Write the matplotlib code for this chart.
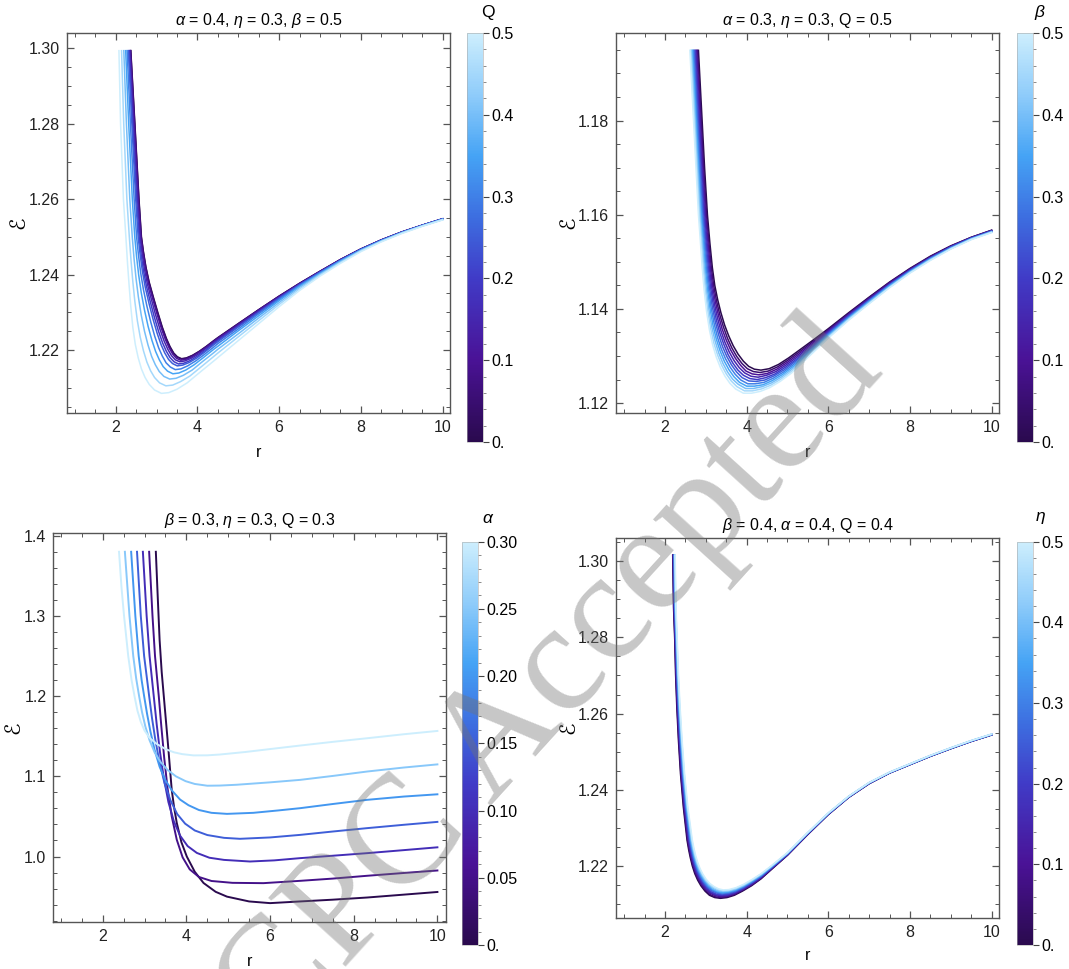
import matplotlib
matplotlib.use("Agg")
import matplotlib.pyplot as plt
from matplotlib.colors import LinearSegmentedColormap, Normalize
from matplotlib.cm import ScalarMappable
from matplotlib.ticker import MultipleLocator, FormatStrFormatter

plt.rcParams["font.family"] = ["Liberation Sans", "DejaVu Sans"]
plt.rcParams["mathtext.fontset"] = "custom"
plt.rcParams["mathtext.rm"] = "Liberation Sans"
plt.rcParams["mathtext.it"] = "Liberation Sans:italic"

# ---------------- panel 1 : curves for Q = 0 ... 0.5 ----------------
q_vals = [0.0, 0.05, 0.10, 0.15, 0.20, 0.25, 0.30, 0.35, 0.40, 0.45, 0.50]
p1_head_e = [1.2994, 1.28, 1.26]
p1_head_r = [
    [2.37, 2.47, 2.57], [2.367, 2.466, 2.566], [2.358, 2.456, 2.555],
    [2.344, 2.438, 2.536], [2.326, 2.417, 2.513], [2.309, 2.396, 2.490],
    [2.280, 2.361, 2.452], [2.245, 2.319, 2.407], [2.199, 2.263, 2.346],
    [2.144, 2.197, 2.274], [2.08, 2.12, 2.19],
]
p1_bend_r = [
    [2.63, 2.68, 2.74, 2.82, 2.92, 3.03, 3.14, 3.24, 3.33, 3.42, 3.51, 3.61, 3.73, 3.88, 4.05, 4.22, 4.40],
    [2.626, 2.676, 2.736, 2.815, 2.915, 3.024, 3.134, 3.234, 3.324, 3.414, 3.504, 3.605, 3.726, 3.876, 4.047, 4.218, 4.40],
    [2.615, 2.664, 2.724, 2.802, 2.900, 3.008, 3.116, 3.216, 3.306, 3.396, 3.488, 3.590, 3.713, 3.865, 4.038, 4.213, 4.40],
    [2.596, 2.645, 2.703, 2.779, 2.875, 2.980, 3.087, 3.185, 3.275, 3.366, 3.460, 3.566, 3.691, 3.846, 4.023, 4.205, 4.40],
    [2.573, 2.621, 2.678, 2.752, 2.845, 2.947, 3.051, 3.148, 3.238, 3.330, 3.426, 3.536, 3.665, 3.823, 4.005, 4.194, 4.40],
    [2.550, 2.598, 2.654, 2.725, 2.815, 2.914, 3.016, 3.112, 3.202, 3.294, 3.392, 3.507, 3.640, 3.800, 3.987, 4.184, 4.40],
    [2.512, 2.559, 2.613, 2.680, 2.765, 2.859, 2.957, 3.051, 3.141, 3.234, 3.336, 3.458, 3.597, 3.762, 3.957, 4.167, 4.40],
    [2.467, 2.512, 2.564, 2.626, 2.705, 2.793, 2.886, 2.978, 3.068, 3.162, 3.269, 3.399, 3.545, 3.717, 3.921, 4.147, 4.40],
    [2.406, 2.450, 2.498, 2.554, 2.625, 2.705, 2.792, 2.880, 2.970, 3.066, 3.180, 3.321, 3.476, 3.656, 3.873, 4.120, 4.40],
    [2.334, 2.376, 2.420, 2.469, 2.530, 2.601, 2.680, 2.764, 2.854, 2.952, 3.073, 3.228, 3.395, 3.584, 3.816, 4.087, 4.40],
    [2.25, 2.29, 2.33, 2.37, 2.42, 2.48, 2.55, 2.63, 2.72, 2.82, 2.95, 3.12, 3.30, 3.50, 3.75, 4.05, 4.40],
]
p1_bend_e = [
    [1.2500, 1.2460, 1.2420, 1.2380, 1.2341, 1.2300, 1.2261, 1.2231, 1.2209, 1.2192, 1.2182, 1.2177, 1.2179, 1.2186, 1.2197, 1.2210, 1.2225],
    [1.2500, 1.2460, 1.2420, 1.2379, 1.2340, 1.2299, 1.2260, 1.2230, 1.2208, 1.2191, 1.2181, 1.2176, 1.2178, 1.2185, 1.2196, 1.2209, 1.2224],
    [1.2500, 1.2459, 1.2418, 1.2377, 1.2338, 1.2297, 1.2258, 1.2228, 1.2206, 1.2189, 1.2178, 1.2173, 1.2175, 1.2182, 1.2194, 1.2207, 1.2223],
    [1.2500, 1.2457, 1.2415, 1.2374, 1.2334, 1.2292, 1.2254, 1.2224, 1.2202, 1.2185, 1.2174, 1.2169, 1.2171, 1.2178, 1.2189, 1.2204, 1.2220],
    [1.2500, 1.2455, 1.2412, 1.2370, 1.2329, 1.2287, 1.2249, 1.2219, 1.2197, 1.2180, 1.2169, 1.2163, 1.2165, 1.2172, 1.2184, 1.2199, 1.2217],
    [1.2500, 1.2454, 1.2409, 1.2366, 1.2324, 1.2282, 1.2244, 1.2214, 1.2192, 1.2175, 1.2164, 1.2158, 1.2160, 1.2167, 1.2179, 1.2195, 1.2214],
    [1.2500, 1.2451, 1.2404, 1.2360, 1.2316, 1.2274, 1.2236, 1.2206, 1.2184, 1.2166, 1.2155, 1.2148, 1.2150, 1.2158, 1.2171, 1.2188, 1.2208],
    [1.2500, 1.2447, 1.2398, 1.2352, 1.2306, 1.2263, 1.2226, 1.2196, 1.2174, 1.2156, 1.2144, 1.2137, 1.2139, 1.2147, 1.2161, 1.2180, 1.2202],
    [1.2500, 1.2442, 1.2390, 1.2342, 1.2293, 1.2250, 1.2213, 1.2183, 1.2161, 1.2143, 1.2130, 1.2123, 1.2125, 1.2133, 1.2147, 1.2169, 1.2193],
    [1.2500, 1.2437, 1.2381, 1.2329, 1.2278, 1.2234, 1.2198, 1.2168, 1.2145, 1.2127, 1.2113, 1.2105, 1.2107, 1.2116, 1.2131, 1.2155, 1.2183],
    [1.2500, 1.2430, 1.2370, 1.2315, 1.2260, 1.2215, 1.2180, 1.2150, 1.2127, 1.2109, 1.2094, 1.2085, 1.2087, 1.2096, 1.2113, 1.2140, 1.2171],
]
p1_tail_r = [4.5, 5.0, 5.5, 6.0, 6.5, 7.0, 7.5, 8.0, 8.5, 9.0, 9.5, 10.0]
p1_tail_e = [
    [1.2233, 1.2270, 1.2307, 1.2343, 1.2377, 1.2409, 1.2440, 1.2468, 1.2492, 1.2513, 1.2531, 1.2548],
    [1.2232, 1.2270, 1.2307, 1.2343, 1.2377, 1.2409, 1.2440, 1.2468, 1.2492, 1.2513, 1.2531, 1.2548],
    [1.2231, 1.2268, 1.2306, 1.2342, 1.2376, 1.2408, 1.2440, 1.2468, 1.2492, 1.2513, 1.2531, 1.2548],
    [1.2228, 1.2266, 1.2304, 1.2340, 1.2375, 1.2408, 1.2439, 1.2467, 1.2492, 1.2513, 1.2531, 1.2548],
    [1.2225, 1.2263, 1.2301, 1.2339, 1.2374, 1.2407, 1.2438, 1.2467, 1.2491, 1.2512, 1.2531, 1.2548],
    [1.2222, 1.2261, 1.2299, 1.2337, 1.2373, 1.2406, 1.2438, 1.2467, 1.2491, 1.2512, 1.2530, 1.2547],
    [1.2217, 1.2256, 1.2296, 1.2334, 1.2371, 1.2405, 1.2437, 1.2466, 1.2490, 1.2512, 1.2530, 1.2547],
    [1.2210, 1.2251, 1.2291, 1.2331, 1.2369, 1.2403, 1.2436, 1.2465, 1.2490, 1.2511, 1.2530, 1.2547],
    [1.2202, 1.2243, 1.2285, 1.2326, 1.2366, 1.2401, 1.2434, 1.2464, 1.2489, 1.2511, 1.2529, 1.2546],
    [1.2192, 1.2235, 1.2278, 1.2321, 1.2362, 1.2399, 1.2432, 1.2463, 1.2488, 1.2510, 1.2529, 1.2546],
    [1.2180, 1.2225, 1.2270, 1.2315, 1.2358, 1.2396, 1.2430, 1.2461, 1.2487, 1.2509, 1.2528, 1.2545],
]

# ---------------- panel 2 : curves for beta = 0 ... 0.5 ----------------
beta_vals = [0.0, 0.05, 0.10, 0.15, 0.20, 0.25, 0.30, 0.35, 0.40, 0.45, 0.50]
p2_head_e = [1.1949, 1.18, 1.17, 1.16]
p2_head_r = [
    [2.82, 2.91, 2.97, 3.04], [2.799, 2.889, 2.949, 3.018],
    [2.778, 2.868, 2.928, 2.996], [2.757, 2.847, 2.907, 2.974],
    [2.736, 2.826, 2.886, 2.952], [2.715, 2.805, 2.865, 2.930],
    [2.694, 2.784, 2.844, 2.908], [2.673, 2.763, 2.823, 2.886],
    [2.652, 2.742, 2.802, 2.864], [2.631, 2.721, 2.781, 2.842],
    [2.61, 2.70, 2.76, 2.82],
]
p2_bend_r = [
    [3.10, 3.16, 3.22, 3.29, 3.37, 3.46, 3.56, 3.67, 3.79, 3.92, 4.05, 4.19, 4.35, 4.55, 4.78, 5.03, 5.30],
    [3.077, 3.135, 3.194, 3.263, 3.342, 3.431, 3.530, 3.639, 3.758, 3.887, 4.018, 4.163, 4.327, 4.529, 4.759, 5.009, 5.280],
    [3.054, 3.110, 3.168, 3.236, 3.314, 3.402, 3.500, 3.608, 3.726, 3.854, 3.986, 4.136, 4.304, 4.508, 4.738, 4.988, 5.260],
    [3.031, 3.085, 3.142, 3.209, 3.286, 3.373, 3.470, 3.577, 3.694, 3.821, 3.954, 4.109, 4.281, 4.487, 4.717, 4.967, 5.240],
    [3.008, 3.060, 3.116, 3.182, 3.258, 3.344, 3.440, 3.546, 3.662, 3.788, 3.922, 4.082, 4.258, 4.466, 4.696, 4.946, 5.220],
    [2.985, 3.035, 3.090, 3.155, 3.230, 3.315, 3.410, 3.515, 3.630, 3.755, 3.890, 4.055, 4.235, 4.445, 4.675, 4.925, 5.200],
    [2.962, 3.010, 3.064, 3.128, 3.202, 3.286, 3.380, 3.484, 3.598, 3.722, 3.858, 4.028, 4.212, 4.424, 4.654, 4.904, 5.180],
    [2.939, 2.985, 3.038, 3.101, 3.174, 3.257, 3.350, 3.453, 3.566, 3.689, 3.826, 4.001, 4.189, 4.403, 4.633, 4.883, 5.160],
    [2.916, 2.960, 3.012, 3.074, 3.146, 3.228, 3.320, 3.422, 3.534, 3.656, 3.794, 3.974, 4.166, 4.382, 4.612, 4.862, 5.140],
    [2.893, 2.935, 2.986, 3.047, 3.118, 3.199, 3.290, 3.391, 3.502, 3.623, 3.762, 3.947, 4.143, 4.361, 4.591, 4.841, 5.120],
    [2.87, 2.91, 2.96, 3.02, 3.09, 3.17, 3.26, 3.36, 3.47, 3.59, 3.73, 3.92, 4.12, 4.34, 4.57, 4.82, 5.10],
]
p2_bend_e = [
    [1.1540, 1.1488, 1.1450, 1.1420, 1.1392, 1.1366, 1.1343, 1.1322, 1.1304, 1.1289, 1.1278, 1.1272, 1.1270, 1.1273, 1.1282, 1.1296, 1.1313],
    [1.1540, 1.1488, 1.1449, 1.1417, 1.1388, 1.1362, 1.1338, 1.1317, 1.1299, 1.1284, 1.1273, 1.1267, 1.1265, 1.1268, 1.1277, 1.1291, 1.1308],
    [1.1540, 1.1488, 1.1448, 1.1415, 1.1385, 1.1357, 1.1334, 1.1313, 1.1295, 1.1280, 1.1268, 1.1262, 1.1260, 1.1263, 1.1272, 1.1286, 1.1303],
    [1.1540, 1.1489, 1.1447, 1.1412, 1.1381, 1.1353, 1.1329, 1.1308, 1.1290, 1.1275, 1.1264, 1.1257, 1.1255, 1.1259, 1.1267, 1.1281, 1.1298],
    [1.1540, 1.1489, 1.1446, 1.1410, 1.1377, 1.1349, 1.1325, 1.1303, 1.1285, 1.1270, 1.1259, 1.1252, 1.1250, 1.1254, 1.1262, 1.1276, 1.1293],
    [1.1540, 1.1489, 1.1445, 1.1407, 1.1374, 1.1345, 1.1320, 1.1299, 1.1281, 1.1266, 1.1254, 1.1247, 1.1246, 1.1249, 1.1258, 1.1271, 1.1289],
    [1.1540, 1.1489, 1.1444, 1.1404, 1.1370, 1.1340, 1.1315, 1.1294, 1.1276, 1.1261, 1.1249, 1.1241, 1.1241, 1.1244, 1.1253, 1.1266, 1.1284],
    [1.1540, 1.1489, 1.1443, 1.1402, 1.1366, 1.1336, 1.1311, 1.1289, 1.1271, 1.1256, 1.1244, 1.1236, 1.1236, 1.1239, 1.1248, 1.1261, 1.1279],
    [1.1540, 1.1490, 1.1442, 1.1399, 1.1362, 1.1332, 1.1306, 1.1284, 1.1266, 1.1251, 1.1240, 1.1231, 1.1231, 1.1235, 1.1243, 1.1256, 1.1274],
    [1.1540, 1.1490, 1.1441, 1.1397, 1.1359, 1.1327, 1.1302, 1.1280, 1.1262, 1.1247, 1.1235, 1.1226, 1.1226, 1.1230, 1.1238, 1.1251, 1.1269],
    [1.1540, 1.1490, 1.1440, 1.1394, 1.1355, 1.1323, 1.1297, 1.1275, 1.1257, 1.1242, 1.1230, 1.1221, 1.1221, 1.1225, 1.1233, 1.1246, 1.1264],
]
p2_tail_r = [5.6, 6.0, 6.5, 7.0, 7.5, 8.0, 8.5, 9.0, 9.5, 10.0]
p2_tail_e = [
    [1.1332, 1.1358, 1.1392, 1.1425, 1.1457, 1.1486, 1.1512, 1.1534, 1.1552, 1.1567],
    [1.1329, 1.1356, 1.1390, 1.1424, 1.1456, 1.1485, 1.1511, 1.1533, 1.1552, 1.1567],
    [1.1326, 1.1354, 1.1389, 1.1422, 1.1455, 1.1484, 1.1510, 1.1533, 1.1551, 1.1566],
    [1.1323, 1.1352, 1.1387, 1.1421, 1.1453, 1.1483, 1.1509, 1.1532, 1.1551, 1.1566],
    [1.1320, 1.1350, 1.1386, 1.1419, 1.1452, 1.1482, 1.1508, 1.1531, 1.1550, 1.1565],
    [1.1318, 1.1348, 1.1384, 1.1418, 1.1451, 1.1481, 1.1508, 1.1531, 1.1550, 1.1565],
    [1.1315, 1.1346, 1.1382, 1.1417, 1.1450, 1.1480, 1.1507, 1.1530, 1.1549, 1.1564],
    [1.1313, 1.1344, 1.1381, 1.1415, 1.1449, 1.1479, 1.1506, 1.1529, 1.1549, 1.1564],
    [1.1310, 1.1342, 1.1379, 1.1414, 1.1447, 1.1478, 1.1505, 1.1528, 1.1548, 1.1563],
    [1.1308, 1.1340, 1.1378, 1.1412, 1.1446, 1.1477, 1.1504, 1.1528, 1.1548, 1.1563],
    [1.1305, 1.1338, 1.1376, 1.1411, 1.1445, 1.1476, 1.1503, 1.1527, 1.1547, 1.1562],
]

# ---------------- panel 3 : curves for alpha = 0 ... 0.30 ----------------
alpha_vals = [0.0, 0.05, 0.10, 0.15, 0.20, 0.25, 0.30]
p3_r = [
    [3.27, 3.31, 3.36, 3.41, 3.46, 3.51, 3.56, 3.65, 3.71, 3.77, 3.88, 4.01, 4.2, 4.41,
     4.7, 4.97, 5.5, 6.0, 6.72, 7.5, 8.32, 9.2, 10.0],
    [3.11, 3.19, 3.25, 3.30, 3.34, 3.40, 3.47, 3.55, 3.65, 3.77, 3.91, 4.08, 4.3, 4.6,
     5.1, 5.84, 6.72, 7.5, 8.32, 9.2, 10.0],
    [2.96, 3.05, 3.12, 3.17, 3.22, 3.29, 3.37, 3.46, 3.57, 3.70, 3.85, 4.03, 4.25, 4.55,
     4.9, 5.52, 6.1, 6.72, 7.5, 8.32, 9.2, 10.0],
    [2.82, 2.91, 2.99, 3.05, 3.11, 3.18, 3.26, 3.36, 3.48, 3.62, 3.78, 3.97, 4.2, 4.5,
     4.9, 5.28, 6.0, 6.72, 7.5, 8.32, 9.2, 10.0],
    [2.68, 2.78, 2.86, 2.93, 2.99, 3.06, 3.14, 3.24, 3.36, 3.50, 3.66, 3.85, 4.05, 4.3,
     4.6, 4.97, 5.6, 6.2, 6.72, 7.5, 8.32, 9.2, 10.0],
    [2.53, 2.64, 2.73, 2.80, 2.87, 2.94, 3.02, 3.12, 3.24, 3.38, 3.55, 3.75, 3.98, 4.2,
     4.5, 4.8, 5.2, 6.0, 6.72, 7.5, 8.32, 9.2, 10.0],
    [2.39, 2.45, 2.51, 2.61, 2.69, 2.76, 2.83, 2.91, 3.0, 3.12, 3.29, 3.5, 3.7, 3.9,
     4.17, 4.5, 4.8, 5.4, 6.0, 6.72, 7.5, 8.32, 9.2, 10.0],
]
p3_e = [
    [1.380, 1.33, 1.27, 1.23, 1.20, 1.17, 1.14, 1.083, 1.060, 1.042, 1.018, 1.000, 0.981,
     0.967, 0.956, 0.950, 0.944, 0.9419, 0.9440, 0.9462, 0.9489, 0.9525, 0.9558],
    [1.380, 1.30, 1.25, 1.222, 1.20, 1.163, 1.123, 1.085, 1.050, 1.021, 0.999, 0.984,
     0.9745, 0.9695, 0.9672, 0.9668, 0.9697, 0.9725, 0.9760, 0.9795, 0.9826],
    [1.380, 1.30, 1.25, 1.225, 1.20, 1.165, 1.130, 1.098, 1.068, 1.044, 1.026, 1.013,
     1.0045, 0.9985, 0.9958, 0.9938, 0.9952, 0.9980, 1.0010, 1.0042, 1.0080, 1.0115],
    [1.380, 1.30, 1.25, 1.225, 1.20, 1.172, 1.145, 1.117, 1.091, 1.070, 1.053, 1.041,
     1.0325, 1.0268, 1.0233, 1.0221, 1.0238, 1.0270, 1.0312, 1.0354, 1.0396, 1.0432],
    [1.380, 1.30, 1.25, 1.22, 1.20, 1.178, 1.156, 1.133, 1.112, 1.095, 1.082, 1.071,
     1.064, 1.058, 1.0545, 1.0532, 1.0545, 1.0575, 1.0603, 1.0655, 1.0707, 1.0748, 1.0776],
    [1.380, 1.30, 1.25, 1.222, 1.20, 1.18, 1.162, 1.145, 1.130, 1.118, 1.108, 1.100,
     1.094, 1.0905, 1.0883, 1.0885, 1.0895, 1.0925, 1.0956, 1.1005, 1.1060, 1.1110, 1.1149],
    [1.380, 1.335, 1.30, 1.25, 1.22, 1.20, 1.182, 1.168, 1.157, 1.148, 1.1405, 1.134,
     1.130, 1.1277, 1.1261, 1.1262, 1.1272, 1.1303, 1.1340, 1.1384, 1.1430, 1.1475,
     1.1525, 1.1566],
]

# ---------------- panel 4 : curves for eta = 0 ... 0.5 ----------------
eta_vals = [0.0, 0.05, 0.10, 0.15, 0.20, 0.25, 0.30, 0.35, 0.40, 0.45, 0.50]
p4_head_e = [1.3016, 1.288, 1.2793, 1.2705, 1.2618, 1.253, 1.2443, 1.2355, 1.2268]
p4_head_r = [
    [2.19, 2.21, 2.24, 2.26, 2.29, 2.33, 2.38, 2.45, 2.54],
    [2.196, 2.216, 2.246, 2.267, 2.298, 2.339, 2.39, 2.461, 2.553],
    [2.202, 2.222, 2.252, 2.274, 2.306, 2.348, 2.40, 2.472, 2.566],
    [2.208, 2.228, 2.258, 2.281, 2.314, 2.357, 2.41, 2.483, 2.579],
    [2.214, 2.234, 2.264, 2.288, 2.322, 2.366, 2.42, 2.494, 2.592],
    [2.220, 2.240, 2.270, 2.295, 2.330, 2.375, 2.43, 2.505, 2.605],
    [2.226, 2.246, 2.276, 2.302, 2.338, 2.384, 2.44, 2.516, 2.618],
    [2.232, 2.252, 2.282, 2.309, 2.346, 2.393, 2.45, 2.527, 2.631],
    [2.238, 2.258, 2.288, 2.316, 2.354, 2.402, 2.46, 2.538, 2.644],
    [2.244, 2.264, 2.294, 2.323, 2.362, 2.411, 2.47, 2.549, 2.657],
    [2.25, 2.27, 2.30, 2.33, 2.37, 2.42, 2.48, 2.56, 2.67],
]
p4_bend_r = [
    [2.58, 2.62, 2.67, 2.73, 2.80, 2.88, 2.98, 3.09, 3.22, 3.36, 3.52, 3.70, 3.90, 4.12, 4.35],
    [2.593, 2.633, 2.683, 2.743, 2.813, 2.893, 2.992, 3.101, 3.229, 3.367, 3.525, 3.704, 3.903, 4.122, 4.351],
    [2.606, 2.646, 2.696, 2.756, 2.826, 2.906, 3.004, 3.112, 3.238, 3.374, 3.530, 3.708, 3.906, 4.124, 4.352],
    [2.619, 2.659, 2.709, 2.769, 2.839, 2.919, 3.016, 3.123, 3.247, 3.381, 3.535, 3.712, 3.909, 4.126, 4.353],
    [2.632, 2.672, 2.722, 2.782, 2.852, 2.932, 3.028, 3.134, 3.256, 3.388, 3.540, 3.716, 3.912, 4.128, 4.354],
    [2.645, 2.685, 2.735, 2.795, 2.865, 2.945, 3.040, 3.145, 3.265, 3.395, 3.545, 3.720, 3.915, 4.130, 4.355],
    [2.658, 2.698, 2.748, 2.808, 2.878, 2.958, 3.052, 3.156, 3.274, 3.402, 3.550, 3.724, 3.918, 4.132, 4.356],
    [2.671, 2.711, 2.761, 2.821, 2.891, 2.971, 3.064, 3.167, 3.283, 3.409, 3.555, 3.728, 3.921, 4.134, 4.357],
    [2.684, 2.724, 2.774, 2.834, 2.904, 2.984, 3.076, 3.178, 3.292, 3.416, 3.560, 3.732, 3.924, 4.136, 4.358],
    [2.697, 2.737, 2.787, 2.847, 2.917, 2.997, 3.088, 3.189, 3.301, 3.423, 3.565, 3.736, 3.927, 4.138, 4.359],
    [2.71, 2.75, 2.80, 2.86, 2.93, 3.01, 3.10, 3.20, 3.31, 3.43, 3.57, 3.74, 3.93, 4.14, 4.36],
]
p4_bend_e = [
    [1.2243, 1.2222, 1.2200, 1.2180, 1.2163, 1.2148, 1.2134, 1.2123, 1.2117, 1.2115, 1.2117, 1.2123, 1.2134, 1.2148, 1.2166],
    [1.2243, 1.2223, 1.2201, 1.2181, 1.2165, 1.2150, 1.2136, 1.2125, 1.2119, 1.2117, 1.2119, 1.2125, 1.2136, 1.2150, 1.2167],
    [1.2244, 1.2223, 1.2202, 1.2183, 1.2166, 1.2151, 1.2138, 1.2128, 1.2122, 1.2119, 1.2121, 1.2127, 1.2138, 1.2151, 1.2169],
    [1.2244, 1.2224, 1.2203, 1.2184, 1.2168, 1.2153, 1.2140, 1.2130, 1.2124, 1.2122, 1.2123, 1.2129, 1.2139, 1.2153, 1.2170],
    [1.2244, 1.2224, 1.2204, 1.2185, 1.2169, 1.2155, 1.2142, 1.2132, 1.2126, 1.2124, 1.2125, 1.2131, 1.2141, 1.2155, 1.2172],
    [1.2245, 1.2225, 1.2205, 1.2187, 1.2171, 1.2157, 1.2144, 1.2135, 1.2129, 1.2126, 1.2128, 1.2133, 1.2143, 1.2157, 1.2173],
    [1.2245, 1.2226, 1.2206, 1.2188, 1.2172, 1.2158, 1.2146, 1.2137, 1.2131, 1.2128, 1.2130, 1.2135, 1.2145, 1.2158, 1.2174],
    [1.2245, 1.2226, 1.2207, 1.2189, 1.2174, 1.2160, 1.2148, 1.2139, 1.2133, 1.2130, 1.2132, 1.2137, 1.2147, 1.2160, 1.2176],
    [1.2245, 1.2227, 1.2208, 1.2190, 1.2175, 1.2162, 1.2150, 1.2141, 1.2135, 1.2133, 1.2134, 1.2139, 1.2148, 1.2162, 1.2177],
    [1.2246, 1.2227, 1.2209, 1.2192, 1.2177, 1.2163, 1.2152, 1.2144, 1.2138, 1.2135, 1.2136, 1.2141, 1.2150, 1.2163, 1.2179],
    [1.2246, 1.2228, 1.2210, 1.2193, 1.2178, 1.2165, 1.2154, 1.2146, 1.2140, 1.2137, 1.2138, 1.2143, 1.2152, 1.2165, 1.2180],
]
p4_tail_r = [4.6, 5.0, 5.5, 6.0, 6.5, 7.0, 7.5, 8.0, 8.5, 9.0, 9.5, 10.0]
p4_tail_e = [
    [1.2190, 1.2228, 1.2283, 1.2335, 1.2380, 1.2416, 1.2444, 1.2466, 1.2488, 1.2508, 1.2527, 1.2544],
    [1.2191, 1.2229, 1.2283, 1.2335, 1.2380, 1.2416, 1.2444, 1.2466, 1.2488, 1.2508, 1.2527, 1.2544],
    [1.2192, 1.2229, 1.2284, 1.2336, 1.2381, 1.2417, 1.2444, 1.2466, 1.2488, 1.2508, 1.2527, 1.2544],
    [1.2193, 1.2230, 1.2285, 1.2336, 1.2381, 1.2417, 1.2445, 1.2467, 1.2489, 1.2509, 1.2528, 1.2545],
    [1.2194, 1.2231, 1.2285, 1.2337, 1.2381, 1.2417, 1.2445, 1.2467, 1.2489, 1.2509, 1.2528, 1.2545],
    [1.2195, 1.2232, 1.2286, 1.2337, 1.2382, 1.2418, 1.2445, 1.2467, 1.2489, 1.2509, 1.2528, 1.2545],
    [1.2196, 1.2232, 1.2286, 1.2337, 1.2382, 1.2418, 1.2445, 1.2467, 1.2489, 1.2509, 1.2528, 1.2545],
    [1.2197, 1.2233, 1.2287, 1.2338, 1.2382, 1.2418, 1.2445, 1.2467, 1.2489, 1.2509, 1.2528, 1.2545],
    [1.2198, 1.2234, 1.2287, 1.2338, 1.2382, 1.2418, 1.2446, 1.2468, 1.2490, 1.2510, 1.2529, 1.2546],
    [1.2199, 1.2234, 1.2288, 1.2339, 1.2383, 1.2419, 1.2446, 1.2468, 1.2490, 1.2510, 1.2529, 1.2546],
    [1.2200, 1.2235, 1.2288, 1.2339, 1.2383, 1.2419, 1.2446, 1.2468, 1.2490, 1.2510, 1.2529, 1.2546],
]

deep = LinearSegmentedColormap.from_list("deepsea", [
    (0.0, "#2a0a4e"), (0.2, "#4a1296"), (0.4, "#403bc7"), (0.55, "#3d6ee0"),
    (0.7, "#45a3f5"), (0.85, "#8fccfa"), (1.0, "#cdeefd")])

FS = 11.5
FRAME = "#555555"


def style_axes(axe, xlim, ylim, yticks, yfmt, yminor):
    axe.set_xlim(*xlim)
    axe.set_ylim(*ylim)
    axe.set_xticks([2, 4, 6, 8, 10])
    axe.xaxis.set_minor_locator(MultipleLocator(0.5))
    axe.set_yticks(yticks)
    axe.yaxis.set_major_formatter(FormatStrFormatter(yfmt))
    axe.yaxis.set_minor_locator(MultipleLocator(yminor))
    axe.tick_params(which="both", direction="in", top=True, right=True,
                    color=FRAME, labelsize=FS, labelcolor="#222222")
    axe.tick_params(which="major", length=5, width=0.9, pad=5)
    axe.tick_params(which="minor", length=2.8, width=0.7)
    for sp in axe.spines.values():
        sp.set_color(FRAME)
        sp.set_linewidth(1.0)
    axe.set_xlabel("r", fontsize=FS, va="center")
    axe.set_ylabel("\u2130", fontsize=15, family=["DejaVu Sans"], va="center")


def add_bar(fig, rect, vmax, ticks, labels, minor, name, name_xy):
    cax = fig.add_axes(rect)
    cbar = fig.colorbar(ScalarMappable(Normalize(0, vmax), deep), cax=cax)
    cbar.set_ticks(ticks, labels=labels)
    cbar.set_ticks(minor, minor=True)
    cbar.outline.set_linewidth(0.4)
    cbar.outline.set_edgecolor("#aaaaaa")
    cax.tick_params(which="major", length=4, width=0.8, color="#444444",
                    labelsize=FS, pad=2)
    cax.tick_params(which="minor", length=2, width=0.6, color="#777777")
    fig.text(name_xy[0], name_xy[1], name, fontsize=FS + 1, ha="center",
             va="center")


def draw_family(axe, vals, vmax, head_r, head_e, bend_r, bend_e, tail_r, tail_e):
    for k, v in enumerate(vals):
        rr = head_r[k] + bend_r[k] + tail_r
        ee = head_e + bend_e[k] + tail_e[k]
        axe.plot(rr, ee, color=deep(v / vmax), lw=1.1)


fig = plt.figure(figsize=(10.69, 9.69), dpi=100)

# panel 1
ax1 = fig.add_axes([0.0627, 0.5738, 0.3583, 0.3922])
draw_family(ax1, q_vals, 0.5, p1_head_r, p1_head_e, p1_bend_r, p1_bend_e,
            p1_tail_r, p1_tail_e)
style_axes(ax1, (0.81, 10.18), (1.2033, 1.3041),
           [1.22, 1.24, 1.26, 1.28, 1.30], "%.2f", 0.005)
ax1.set_title(r"$\alpha$ = 0.4, $\eta$ = 0.3, $\beta$ = 0.5", fontsize=FS, pad=6)
add_bar(fig, [0.4369, 0.5439, 0.0150, 0.4221], 0.5,
        [0, 0.1, 0.2, 0.3, 0.4, 0.5], ["0.", "0.1", "0.2", "0.3", "0.4", "0.5"],
        [0.02 * i for i in range(26)], "Q", (0.4565, 0.9876))

# panel 2
ax2 = fig.add_axes([0.5762, 0.5738, 0.3583, 0.3922])
draw_family(ax2, beta_vals, 0.5, p2_head_r, p2_head_e, p2_bend_r, p2_bend_e,
            p2_tail_r, p2_tail_e)
style_axes(ax2, (0.80, 10.18), (1.1179, 1.1986),
           [1.12, 1.14, 1.16, 1.18], "%.2f", 0.005)
ax2.set_title(r"$\alpha$ = 0.3, $\eta$ = 0.3, Q = 0.5", fontsize=FS, pad=6)
add_bar(fig, [0.9514, 0.5439, 0.0150, 0.4221], 0.5,
        [0, 0.1, 0.2, 0.3, 0.4, 0.5], ["0.", "0.1", "0.2", "0.3", "0.4", "0.5"],
        [0.02 * i for i in range(26)], r"$\beta$", (0.9729, 0.9866))

# panel 3
ax3 = fig.add_axes([0.0499, 0.0482, 0.3671, 0.4014])
for k, a in enumerate(alpha_vals):
    ax3.plot(p3_r[k], p3_e[k], color=deep(a / 0.30), lw=1.4)
style_axes(ax3, (0.82, 10.2), (0.918, 1.403),
           [1.0, 1.1, 1.2, 1.3, 1.4], "%.1f", 0.02)
ax3.set_title(r"$\beta$ = 0.3, $\eta$ = 0.3, Q = 0.3", fontsize=FS, pad=6)
add_bar(fig, [0.4322, 0.0248, 0.0150, 0.4162], 0.30,
        [0, 0.05, 0.10, 0.15, 0.20, 0.25, 0.30],
        ["0.", "0.05", "0.10", "0.15", "0.20", "0.25", "0.30"],
        [0.01 * i for i in range(31)], r"$\alpha$", (0.4565, 0.4654))

# panel 4
ax4 = fig.add_axes([0.5762, 0.0529, 0.3583, 0.3915])
draw_family(ax4, eta_vals, 0.5, p4_head_r, p4_head_e, p4_bend_r, p4_bend_e,
            p4_tail_r, p4_tail_e)
style_axes(ax4, (0.80, 10.18), (1.2064, 1.3060),
           [1.22, 1.24, 1.26, 1.28, 1.30], "%.2f", 0.005)
ax4.set_title(r"$\beta$ = 0.4, $\alpha$ = 0.4, Q = 0.4", fontsize=FS, pad=6)
add_bar(fig, [0.9514, 0.0248, 0.0150, 0.4162], 0.5,
        [0, 0.1, 0.2, 0.3, 0.4, 0.5], ["0.", "0.1", "0.2", "0.3", "0.4", "0.5"],
        [0.02 * i for i in range(26)], r"$\eta$", (0.9729, 0.4654))

for axe, yl, xl in ((ax1, -0.128, -0.103), (ax2, -0.125, -0.103),
                    (ax3, -0.103, -0.101), (ax4, -0.125, -0.100)):
    axe.yaxis.set_label_coords(yl, 0.5)
    axe.xaxis.set_label_coords(0.5, xl)

# watermark
fig.text(0.515, 0.294, "CPC Accepted", rotation=47.8, rotation_mode="anchor",
         fontsize=112, family="Liberation Serif", color=(0.45, 0.45, 0.45),
         alpha=0.4, ha="center", va="center", zorder=20)

fig.savefig("out.png", dpi=100)
